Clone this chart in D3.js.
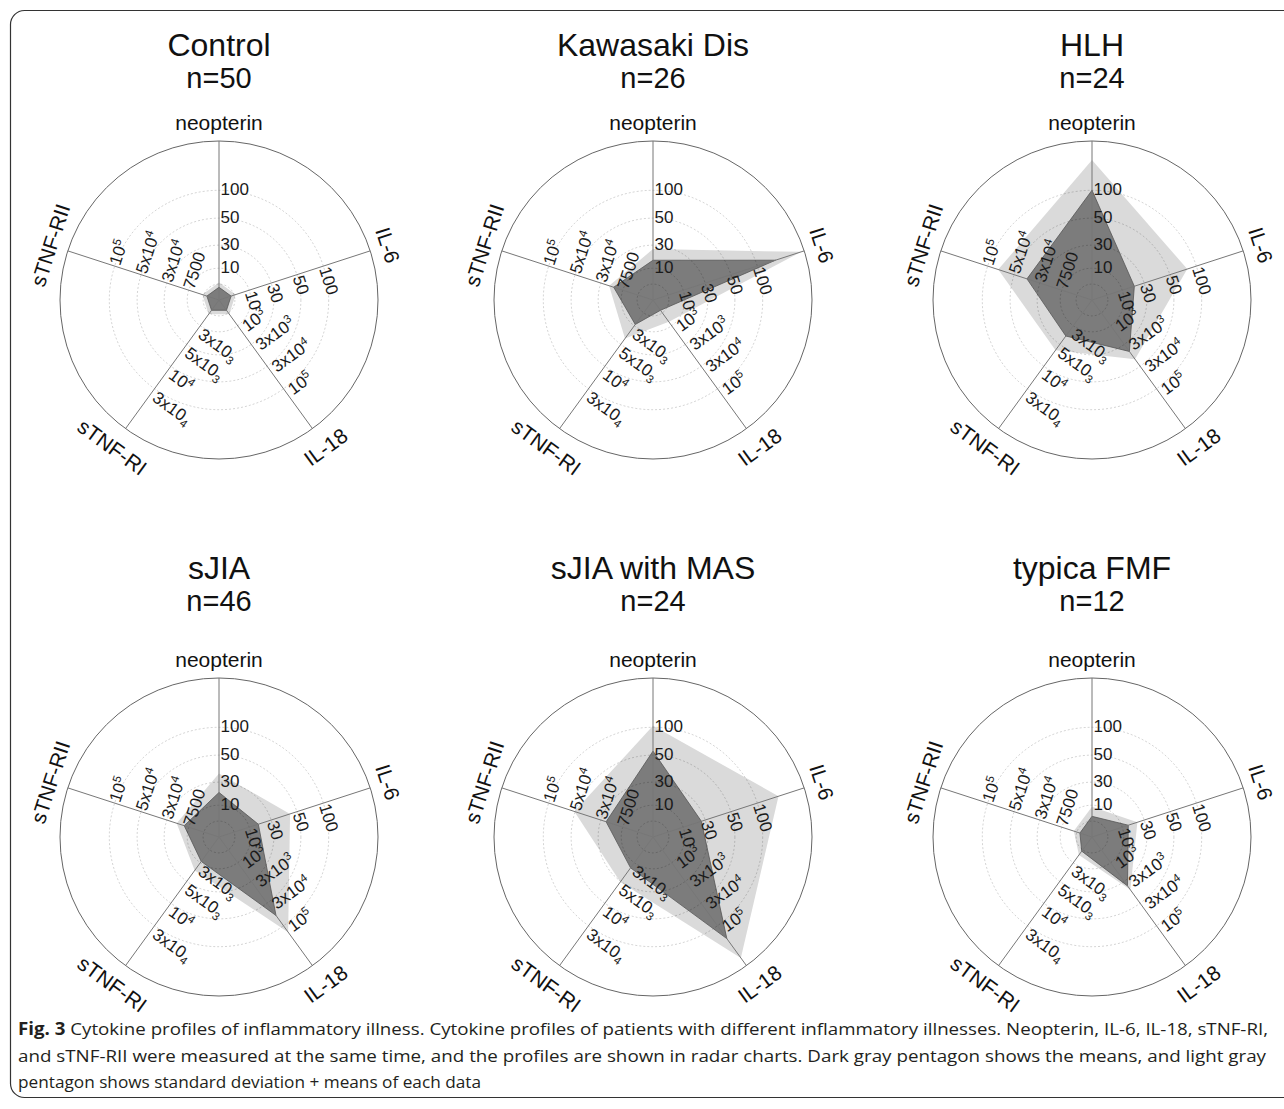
<!DOCTYPE html>
<html><head><meta charset="utf-8">
<script src="https://cdn.jsdelivr.net/npm/d3@7"></script>
<style>body{margin:0;background:#fff} svg{display:block}</style>
</head><body>
<svg id="c" width="1284" height="1109"></svg>
<script>
// ---------- data ----------
const axes = ["neopterin", "IL-6", "IL-18", "sTNF-RI", "sTNF-RII"];
const panels = ["Control", "Kawasaki Dis", "HLH", "sJIA", "sJIA with MAS", "typica FMF"];
const nCounts = ["n=50", "n=26", "n=24", "n=46", "n=24", "n=12"];
// concentric grid levels (fraction of axis length)
const gridLevels = [0.1, 0.2, 0.345, 0.515, 0.69];
const tickLevels = [0.2, 0.345, 0.515, 0.69];
// tick labels per axis ("^" = superscript, "_" = lowered digit as printed)
const tickNeopterin = ["10", "30", "50", "100"];
const tickIL6 = ["10", "30", "50", "100"];
const tickIL18 = ["10^3", "3x10^3", "3x10^4", "10^5"];
const tickSTNFRI = ["3x10_3", "5x10_3", "10^4", "3x10_4"];
const tickSTNFRII = ["7500", "3x10^4", "5x10^4", "10^5"];
// values, as fraction of axis length (axis order above)
const meanControl  = [0.08, 0.08, 0.08, 0.08, 0.08];
const sdControl    = [0.11, 0.11, 0.11, 0.11, 0.11];
const meanKawasaki = [0.25, 0.81, 0.08, 0.19, 0.26];
const sdKawasaki   = [0.32, 0.98, 0.17, 0.30, 0.29];
const meanHLH      = [0.69, 0.28, 0.40, 0.28, 0.43];
const sdHLH        = [0.88, 0.63, 0.46, 0.39, 0.62];
const meanSJIA     = [0.28, 0.26, 0.61, 0.19, 0.23];
const sdSJIA       = [0.40, 0.47, 0.74, 0.26, 0.28];
const meanMAS      = [0.54, 0.32, 0.79, 0.24, 0.31];
const sdMAS        = [0.70, 0.83, 0.94, 0.35, 0.52];
const meanFMF      = [0.13, 0.24, 0.38, 0.11, 0.08];
const sdFMF        = [0.19, 0.30, 0.41, 0.14, 0.12];
const captionLines = [
  ["Fig. 3", "  Cytokine profiles of inflammatory illness. Cytokine profiles of patients with different inflammatory illnesses. Neopterin, IL-6, IL-18, sTNF-RI,"],
  ["", "and sTNF-RII were measured at the same time, and the profiles are shown in radar charts. Dark gray pentagon shows the means, and light gray"],
  ["", "pentagon shows standard deviation + means of each data"]
];

// ---------- layout ----------
const means = [meanControl, meanKawasaki, meanHLH, meanSJIA, meanMAS, meanFMF];
const sds = [sdControl, sdKawasaki, sdHLH, sdSJIA, sdMAS, sdFMF];
const ticks = [tickNeopterin, tickIL6, tickIL18, tickSTNFRI, tickSTNFRII];
const R = 159;
const colX = [219, 653, 1092];
const rowY = [300, 837];
const titleY = [[56, 88], [579, 611]];

const svg = d3.select("#c");
svg.append("rect").attr("x", 10.5).attr("y", 10.5).attr("width", 1290).attr("height", 1087)
  .attr("rx", 14).attr("fill", "none").attr("stroke", "#333").attr("stroke-width", 1.2);

const angle = d3.scaleLinear().domain([0, axes.length]).range([0, 2 * Math.PI]);
const r = d3.scaleLinear().domain([0, 1]).range([0, R]);
const radial = d3.lineRadial().angle((d, i) => angle(i)).radius(d => r(d)).curve(d3.curveLinearClosed);
const font = "'Liberation Sans', Arial, Helvetica, sans-serif";

function pt(i, rad) { const a = angle(i); return [Math.sin(a) * rad, -Math.cos(a) * rad]; }
function rotOf(i) {
  let deg = angle(i) * 180 / Math.PI;
  if (deg > 90 && deg < 270) deg -= 180;
  else if (deg >= 270) deg -= 360;
  return deg;
}
function flipped(i) { const deg = angle(i) * 180 / Math.PI; return deg > 90 && deg < 270; }

function addRich(sel, str, base) {
  const m = str.match(/^(.*?)([\^_])(.+)$/);
  if (!m) { sel.append("tspan").text(str); return; }
  sel.append("tspan").text(m[1]);
  const up = m[2] === "^";
  sel.append("tspan").text(m[3]).attr("font-size", base * 0.68).attr("dy", up ? -base * 0.38 : base * 0.22);
}

panels.forEach((name, k) => {
  const cx = colX[k % 3], cy = rowY[Math.floor(k / 3)];
  const ty = titleY[Math.floor(k / 3)];
  svg.append("text").attr("x", cx).attr("y", ty[0]).attr("text-anchor", "middle")
    .attr("font-family", font).attr("font-size", 32).attr("fill", "#111").text(name);
  svg.append("text").attr("x", cx).attr("y", ty[1]).attr("text-anchor", "middle")
    .attr("font-family", font).attr("font-size", 29).attr("fill", "#111").text(nCounts[k]);

  const g = svg.append("g").attr("transform", `translate(${cx},${cy})`);
  // polygons
  g.append("path").datum(sds[k]).attr("d", radial).attr("fill", "#dadada");
  g.append("path").datum(means[k]).attr("d", radial).attr("fill", "#7c7c7c")
    .attr("stroke", "#555").attr("stroke-width", 0.8);
  // grid rings
  g.selectAll("circle.ring").data(gridLevels).join("circle").attr("class", "ring")
    .attr("r", d => r(d)).attr("fill", "none").attr("stroke", "#000").attr("stroke-opacity", 0.22)
    .attr("stroke-width", 0.8).attr("stroke-dasharray", "2,2");
  g.append("circle").attr("r", R).attr("fill", "none").attr("stroke", "#666").attr("stroke-width", 1);
  // spokes
  g.selectAll("line.spoke").data(axes).join("line").attr("class", "spoke")
    .attr("x1", 0).attr("y1", 0)
    .attr("x2", (d, i) => pt(i, R)[0]).attr("y2", (d, i) => pt(i, R)[1])
    .attr("stroke", "#777").attr("stroke-width", 1);
  // tick labels
  axes.forEach((ax, i) => {
    const fl = flipped(i);
    ticks[i].forEach((t, j) => {
      const p = pt(i, r(tickLevels[j]));
      const tx = g.append("text").attr("transform", `translate(${p[0]},${p[1]}) rotate(${rotOf(i)})`)
        .attr("x", fl ? 4 : 1.5).attr("y", fl ? 6 : 0).attr("dy", "0.3em").attr("font-family", font)
        .attr("font-size", 17).attr("fill", "#1a1a1a");
      addRich(tx, t, 17);
    });
    // axis label
    const p = pt(i, R + (fl ? 15 : 11));
    g.append("text").attr("transform", `translate(${p[0]},${p[1]}) rotate(${rotOf(i)})`)
      .attr("text-anchor", "middle").attr("dy", fl ? "0.72em" : 0)
      .attr("font-family", font).attr("font-size", 21).attr("fill", "#111").text(ax);
  });
});

// caption
const capFont = "'Open Sans', 'Noto Sans', sans-serif";
const capX = 18, capY = [1035, 1062, 1088], capW = [1250, 1248, 463];
captionLines.forEach((ln, i) => {
  const t = svg.append("text").attr("x", capX).attr("y", capY[i]).attr("font-family", capFont)
    .attr("font-size", 17).attr("fill", "#231f20")
    .attr("textLength", capW[i]).attr("lengthAdjust", "spacingAndGlyphs");
  if (ln[0]) t.append("tspan").attr("font-weight", "bold").text(ln[0]);
  t.append("tspan").text(ln[1]);
});
</script>
</body></html>
